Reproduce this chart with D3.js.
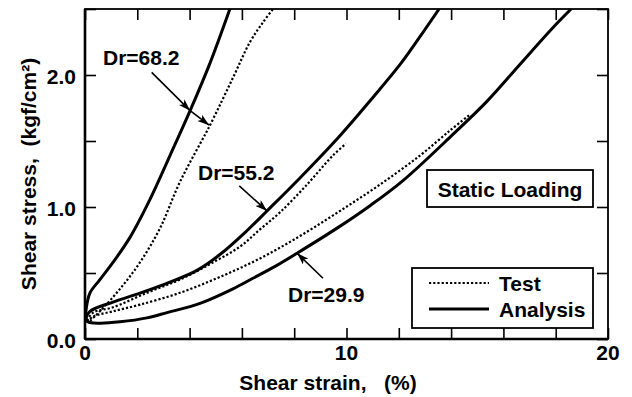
<!DOCTYPE html>
<html>
<head>
<meta charset="utf-8">
<script src="https://cdn.jsdelivr.net/npm/d3@7"></script>
<style>
html,body{margin:0;padding:0;background:#fff;}
svg{display:block;}
text{font-family:"Liberation Sans",Arial,Helvetica,sans-serif;fill:#000;font-weight:bold;}
</style>
</head>
<body>
<svg id="chart" width="632" height="397"></svg>
<script>
// ---- data (strain %, stress kgf/cm2) ----
const a68x = [0.02, 0.04, 0.08, 0.19, 0.57, 1.07, 1.72, 2.49, 3.25, 4.02, 4.78, 5.54];
const a68y = [0.16, 0.22, 0.27, 0.35, 0.45, 0.58, 0.77, 1.06, 1.39, 1.73, 2.09, 2.50];
const t68x = [0.06, 0.11, 0.57, 1.34, 2.10, 2.87, 3.63, 4.78, 5.66, 6.31, 6.81, 7.19];
const t68y = [0.14, 0.13, 0.21, 0.38, 0.58, 0.84, 1.19, 1.62, 1.98, 2.25, 2.40, 2.50];
const a55x = [0.04, 0.19, 1.07, 1.84, 2.98, 4.28, 5.16, 6.19, 6.96, 8.22, 9.75, 11.01, 12.05, 12.81, 13.54];
const a55y = [0.16, 0.21, 0.28, 0.33, 0.41, 0.52, 0.64, 0.82, 0.97, 1.22, 1.54, 1.83, 2.08, 2.29, 2.50];
const t55x = [0.08, 0.31, 1.07, 2.37, 3.63, 4.89, 5.93, 6.69, 7.46, 8.49, 9.48, 9.98];
const t55y = [0.14, 0.20, 0.24, 0.35, 0.45, 0.58, 0.70, 0.83, 0.96, 1.17, 1.39, 1.48];
const a29x = [0.04, 0.11, 0.57, 1.34, 2.37, 3.14, 4.40, 5.66, 6.42, 7.27, 8.11, 9.64, 10.9, 12.16, 14.07, 15.37, 16.63, 17.9, 18.59];
const a29y = [0.16, 0.13, 0.12, 0.13, 0.16, 0.20, 0.27, 0.38, 0.46, 0.55, 0.65, 0.84, 1.01, 1.20, 1.55, 1.80, 2.08, 2.36, 2.50];
const t29x = [0.08, 0.31, 1.07, 2.10, 3.63, 5.16, 6.69, 8.22, 9.75, 11.28, 12.81, 13.96, 14.72];
const t29y = [0.13, 0.17, 0.21, 0.26, 0.35, 0.47, 0.61, 0.78, 0.97, 1.17, 1.39, 1.58, 1.70];

const xTicks = [0, 2, 4, 6, 8, 10, 12, 14, 16, 18, 20];
const xTickLabels = ["0", "10", "20"];
const yTicks = [0, 0.5, 1.0, 1.5, 2.0, 2.5];
const yTickLabels = ["0.0", "1.0", "2.0"];

const drLabels = ["Dr=68.2", "Dr=55.2", "Dr=29.9"];
const legendLabels = ["Test", "Analysis"];
const boxLabel = "Static Loading";
const xTitle = "Shear strain,   (%)";
const yTitle = "Shear stress,  (kgf/cm\u00B2)";

// ---- layout ----
const L = 85, R = 608, T = 9, B = 339;
const x = d3.scaleLinear().domain([0, 20]).range([L, R]);
const y = d3.scaleLinear().domain([0, 2.5]).range([B, T]);

const svg = d3.select("#chart");
const defs = svg.append("defs");
defs.append("clipPath").attr("id", "clip")
  .append("rect").attr("x", L).attr("y", T).attr("width", R - L).attr("height", B - T);

const marker = defs.append("marker")
  .attr("id", "arrow").attr("viewBox", "0 0 12 8").attr("refX", 12).attr("refY", 4)
  .attr("markerWidth", 12).attr("markerHeight", 8).attr("markerUnits", "userSpaceOnUse")
  .attr("orient", "auto");
marker.append("path").attr("d", "M0,0 L12,4 L0,8 L3,4 Z").attr("fill", "#000");

// ---- curves ----
const line = d3.line().x(d => x(d[0])).y(d => y(d[1])).curve(d3.curveCatmullRom.alpha(0.5));
const zip = (a, b) => a.map((v, i) => [v, b[i]]);
const g = svg.append("g").attr("clip-path", "url(#clip)");

const tests = [zip(t68x, t68y), zip(t55x, t55y), zip(t29x, t29y)];
const analyses = [zip(a68x, a68y), zip(a55x, a55y), zip(a29x, a29y)];

g.selectAll(".test").data(tests).join("path").attr("class", "test")
  .attr("d", line).attr("fill", "none").attr("stroke", "#000")
  .attr("stroke-width", 2.2).attr("stroke-dasharray", "2.2,2");
g.selectAll(".ana").data(analyses).join("path").attr("class", "ana")
  .attr("d", line).attr("fill", "none").attr("stroke", "#000")
  .attr("stroke-width", 3);

// ---- axes (ticks inward) ----
const tick = 11;
const axB = svg.append("g").attr("transform", `translate(0,${B})`)
  .call(d3.axisBottom(x).tickValues(xTicks).tickSize(-tick).tickFormat(""));
const axT = svg.append("g").attr("transform", `translate(0,${T})`)
  .call(d3.axisTop(x).tickValues(xTicks).tickSize(-tick).tickFormat(""));
const axL = svg.append("g").attr("transform", `translate(${L},0)`)
  .call(d3.axisLeft(y).tickValues(yTicks).tickSize(-tick).tickFormat(""));
const axR = svg.append("g").attr("transform", `translate(${R},0)`)
  .call(d3.axisRight(y).tickValues(yTicks).tickSize(-tick).tickFormat(""));
[axB, axT, axL, axR].forEach(a => {
  a.select(".domain").remove();
  a.selectAll(".tick line").attr("stroke", "#000").attr("stroke-width", 1.6);
});
svg.append("rect").attr("x", L).attr("y", T).attr("width", R - L).attr("height", B - T)
  .attr("fill", "none").attr("stroke", "#000").attr("stroke-width", 1.8);
svg.append("line").attr("x1", L).attr("x2", L).attr("y1", T).attr("y2", B)
  .attr("stroke", "#000").attr("stroke-width", 2.6);
svg.append("line").attr("x1", L).attr("x2", R).attr("y1", B).attr("y2", B)
  .attr("stroke", "#000").attr("stroke-width", 2.6);

// tick labels
const fs = 21;
svg.selectAll(".xl").data(xTickLabels).join("text").attr("class", "xl")
  .attr("x", d => x(+d)).attr("y", B + 21).attr("text-anchor", "middle")
  .attr("font-size", fs).text(d => d);
svg.selectAll(".yl").data(yTickLabels).join("text").attr("class", "yl")
  .attr("x", L - 9).attr("y", d => y(+d) + 8.5).attr("text-anchor", "end")
  .attr("font-size", fs).text(d => d);

// titles
svg.append("text").attr("x", 328).attr("y", 390).attr("text-anchor", "middle")
  .attr("font-size", fs).style("white-space", "pre").text(xTitle);
svg.append("text").attr("transform", `translate(36,${(T + B) / 2}) rotate(-90)`)
  .attr("text-anchor", "middle").attr("font-size", fs).style("white-space", "pre").text(yTitle);

// Dr labels with arrows
const drPos = [[103, 65], [198, 180], [288, 302]];
svg.selectAll(".dr").data(drLabels).join("text").attr("class", "dr")
  .attr("x", (d, i) => drPos[i][0]).attr("y", (d, i) => drPos[i][1])
  .attr("font-size", fs).text(d => d);

function arrow(x1, y1, x2, y2) {
  svg.append("line").attr("x1", x1).attr("y1", y1).attr("x2", x2).attr("y2", y2)
    .attr("stroke", "#000").attr("stroke-width", 1.6).attr("marker-end", "url(#arrow)");
}
// Dr=68.2: arrow to analysis then on to test
arrow(x(2.55), y(2.02), x(4.02), y(1.73));
arrow(x(4.02), y(1.73), x(4.75), y(1.62));
// Dr=55.2
arrow(x(5.9), y(1.16), x(6.96), y(0.97));
// Dr=29.9
arrow(x(9.1), y(0.46), x(8.11), y(0.65));

// Static Loading box
svg.append("rect").attr("x", 427).attr("y", 170).attr("width", 166).attr("height", 37)
  .attr("fill", "#fff").attr("stroke", "#000").attr("stroke-width", 1.8);
svg.append("text").attr("x", 510).attr("y", 197).attr("text-anchor", "middle")
  .attr("font-size", fs).text(boxLabel);

// legend
svg.append("rect").attr("x", 412).attr("y", 268).attr("width", 181).attr("height", 60)
  .attr("fill", "#fff").attr("stroke", "#000").attr("stroke-width", 1.8);
const legY = [283, 309];
svg.selectAll(".legl").data(legendLabels).join("line").attr("class", "legl")
  .attr("x1", 429).attr("x2", 489).attr("y1", (d, i) => legY[i]).attr("y2", (d, i) => legY[i])
  .attr("stroke", "#000").attr("stroke-width", (d, i) => i === 0 ? 2.2 : 3)
  .attr("stroke-dasharray", (d, i) => i === 0 ? "2.2,2" : null);
svg.selectAll(".legt").data(legendLabels).join("text").attr("class", "legt")
  .attr("x", 499).attr("y", (d, i) => legY[i] + 7.5).attr("font-size", fs).text(d => d);
</script>
</body>
</html>
